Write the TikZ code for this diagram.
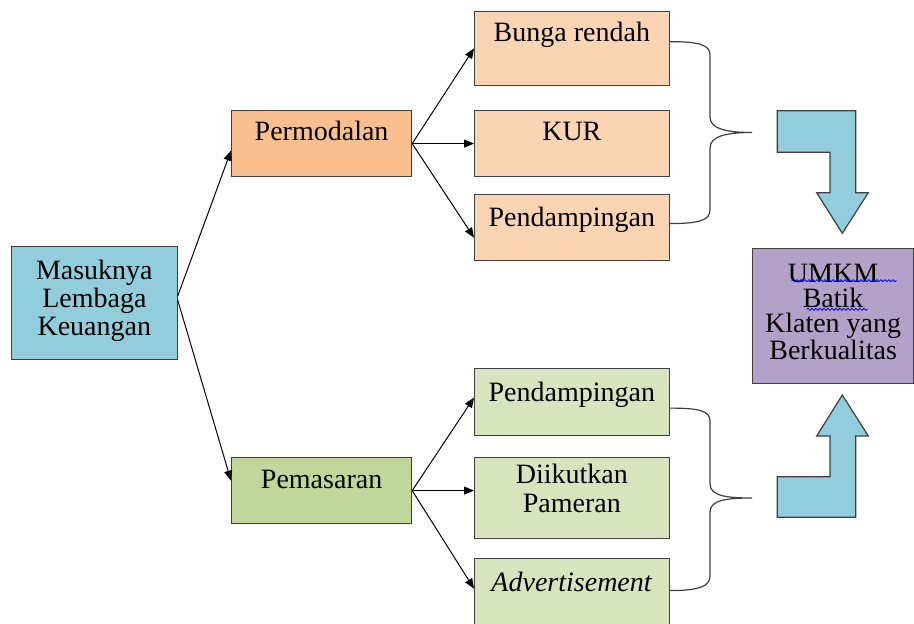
\documentclass[tikz,border=0pt]{standalone}
\usepackage{fontspec}
\setmainfont{Liberation Serif}
\usepackage{tikz}
\usetikzlibrary{arrows.meta,calc,decorations.pathmorphing}
\definecolor{aqua}{HTML}{92CDDC}
\definecolor{orangemid}{HTML}{FABF8F}
\definecolor{orangesoft}{HTML}{FBD4B4}
\definecolor{olivemid}{HTML}{C2D69B}
\definecolor{olivesoft}{HTML}{D7E4BD}
\definecolor{lilac}{HTML}{B2A2C7}
\definecolor{edge}{HTML}{3F3F3F}

\begin{document}
\begin{tikzpicture}[x=0.5pt, y=-0.5pt, every node/.style={font=\fontsize{14}{14}\selectfont},
  box/.style={draw=edge, line width=0.6pt, anchor=north west, inner sep=0pt},
  txt/.style={anchor=north, yshift=-#1, align=center, inner sep=0pt}, txt/.default=6pt,
  link/.style={-{Triangle[length=5pt,width=4pt]}, line width=0.5pt},
  brace/.style={draw=edge, line width=0.6pt},
  bent/.style={draw=edge, fill=aqua, line width=0.6pt},
  spell/.style={draw=blue, line width=0.4pt, decorate, decoration={snake, amplitude=0.5pt, segment length=2pt}}]
\useasboundingbox (0,0) rectangle (914,624);
\node[box,fill=aqua,minimum width=82.75pt,minimum height=56.5pt,label={[txt=7pt]north:{Masuknya\\Lembaga\\Keuangan}}] (lembaga) at (11,246) {};
\node[box,fill=orangemid,minimum width=90pt,minimum height=33pt,label={[txt=5.5pt]north:Permodalan}] (modal) at (231,110) {};
\node[box,fill=olivemid,minimum width=90pt,minimum height=33pt,label={[txt=6.5pt]north:Pemasaran}] (pasar) at (231,457) {};
\node[box,fill=orangesoft,minimum width=97.25pt,minimum height=37.15pt,label={[txt=5.5pt]north:Bunga rendah}] (bunga) at (474,10.7) {};
\node[box,fill=orangesoft,minimum width=97.25pt,minimum height=33pt,label={[txt]north:KUR}] (kur) at (474,110) {};
\node[box,fill=orangesoft,minimum width=97.25pt,minimum height=33pt,label={[txt=6.3pt]north:Pendampingan}] (dampingA) at (474,194) {};
\node[box,fill=olivesoft,minimum width=97.25pt,minimum height=33.5pt,label={[txt=6.8pt]north:Pendampingan}] (dampingB) at (474,368) {};
\node[box,fill=olivesoft,minimum width=97.25pt,minimum height=40.5pt,label={[txt=3.5pt,font=\fontsize{14}{14.5}\selectfont]north:{Diikutkan\\Pameran}}] (pameran) at (474,457) {};
\node[box,fill=olivesoft,minimum width=97.25pt,minimum height=37.5pt,label={[txt=6.8pt]north:\textit{Advertisement}}] (iklan) at (474,558) {};
\node[box,fill=lilac,minimum width=80.5pt,minimum height=67.5pt,label={[txt=7.5pt,font=\fontsize{14}{12.5}\selectfont]north:{UMKM\\Batik\\Klaten yang\\Berkualitas}}] (umkm) at (752,248.3) {};
\coordinate (tipA) at (752,132.5);
\coordinate (tipB) at (752,498);
% spell-check marks
\draw[spell] ($(umkm.north west)+(39.7,32.4)$) -- +(105,0);
\draw[spell] ($(umkm.north west)+(54.7,61)$) -- +(61,0);
% arrows
\draw[link] ([yshift=3.5pt]lembaga.east) -- ([yshift=-3.5pt]modal.west);
\draw[link] ([yshift=1.5pt]lembaga.east) -- ([yshift=5pt]pasar.west);
\draw[link] (modal.east) -- (bunga.west);
\draw[link] (modal.east) -- (modal.east -| kur.west);
\draw[link] (modal.east) -- ([yshift=-5pt]dampingA.west);
\draw[link] (pasar.east) -- ([yshift=2.25pt]dampingB.west);
\draw[link] (pasar.east) -- (pasar.east -| pameran.west);
\draw[link] (pasar.east) -- ([yshift=3.75pt]iklan.west);
% braces
\draw[brace] ([yshift=3.4pt]bunga.east) .. controls +(30,0) and +(0,-10) .. (710,55) -- (710,117) .. controls +(0,12) and +(-25,0) .. (tipA) .. controls +(-25,0) and +(0,-12) .. (710,148) -- (710,210) .. controls +(0,10) and +(30,0) .. ([yshift=2pt]dampingA.east);
\draw[brace] ([yshift=-3pt]dampingB.east) .. controls +(30,0) and +(0,-10) .. (710,421) -- (710,484) .. controls +(0,12) and +(-25,0) .. (tipB) .. controls +(-25,0) and +(0,-12) .. (710,512) -- (710,576) .. controls +(0,10) and +(30,0) .. ([yshift=2.75pt]iklan.east);
% bent arrows
\draw[bent] (777.3,110.7) -- (855.7,110.7) -- (855.7,192.7) -- (868.3,192.7) -- (842.3,233.3) -- (816.7,192.7) -- (830,192.7) -- (830,152.3) -- (777.3,152.3) -- cycle;
\draw[bent] (842.3,395) -- (868.3,436) -- (855.7,436) -- (855.7,517.3) -- (777.3,517.3) -- (777.3,476.7) -- (830,476.7) -- (830,436) -- (816.7,436) -- cycle;
\end{tikzpicture}
\end{document}
